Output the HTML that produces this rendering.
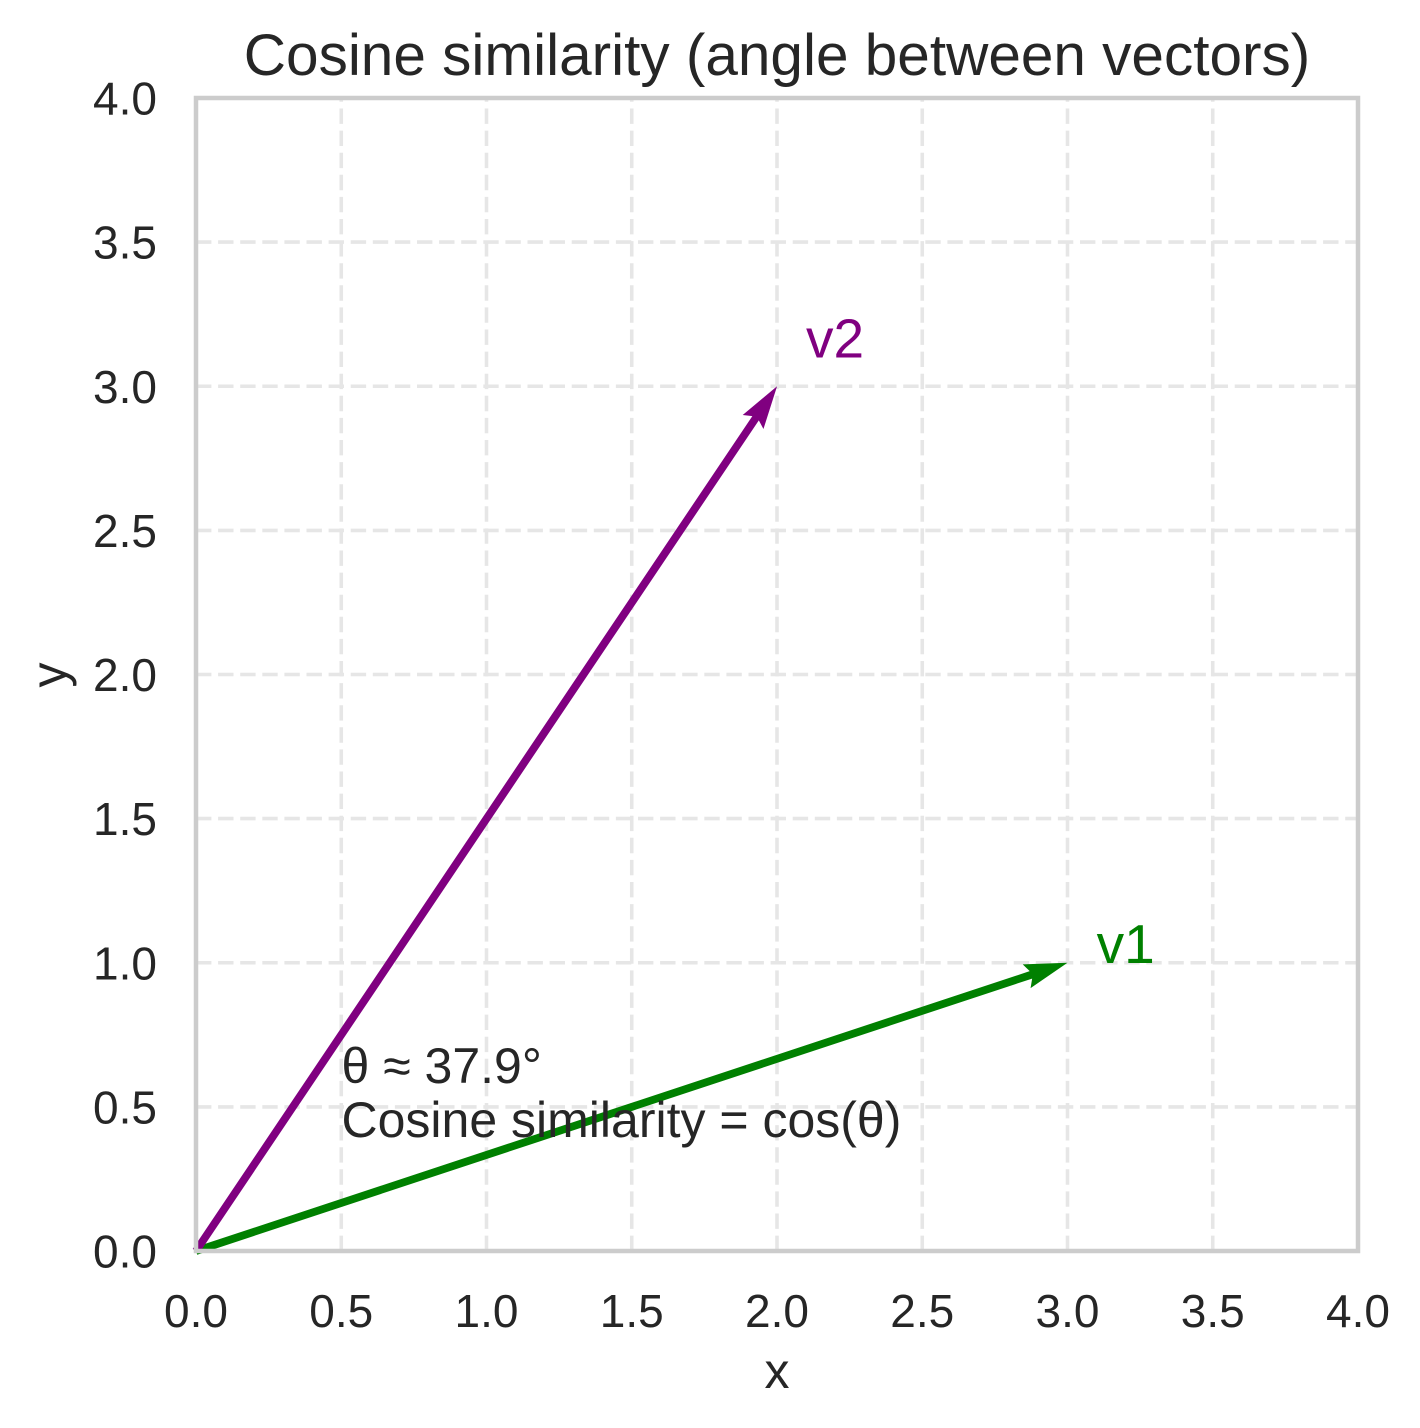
<!DOCTYPE html>
<html>
<head>
<meta charset="utf-8">
<style>
  html, body { margin: 0; padding: 0; background: #ffffff; }
  svg { display: block; }
  text { font-family: "Liberation Sans", Arial, sans-serif; fill: #262626; }
</style>
</head>
<body>
<svg width="1420" height="1428" viewBox="0 0 1420 1428" xmlns="http://www.w3.org/2000/svg">
  <rect x="0" y="0" width="1420" height="1428" fill="#ffffff"/>

  <!-- grid -->
  <g stroke="#e6e6e6" stroke-width="3.6" stroke-dasharray="15.4 6.7" fill="none">
    <line x1="341.25" y1="1251" x2="341.25" y2="98"/>
    <line x1="486.5" y1="1251" x2="486.5" y2="98"/>
    <line x1="631.75" y1="1251" x2="631.75" y2="98"/>
    <line x1="777" y1="1251" x2="777" y2="98"/>
    <line x1="922.25" y1="1251" x2="922.25" y2="98"/>
    <line x1="1067.5" y1="1251" x2="1067.5" y2="98"/>
    <line x1="1212.75" y1="1251" x2="1212.75" y2="98"/>

    <line x1="196" y1="1106.9" x2="1358" y2="1106.9"/>
    <line x1="196" y1="962.75" x2="1358" y2="962.75"/>
    <line x1="196" y1="818.6" x2="1358" y2="818.6"/>
    <line x1="196" y1="674.5" x2="1358" y2="674.5"/>
    <line x1="196" y1="530.4" x2="1358" y2="530.4"/>
    <line x1="196" y1="386.25" x2="1358" y2="386.25"/>
    <line x1="196" y1="242.1" x2="1358" y2="242.1"/>
  </g>

  <!-- arrows -->
  <g transform="translate(196,1251) rotate(-18.30)">
    <polygon fill="#008000" points="0,-3.9 879.4,-3.9 874.9,-12.5 917.9,0 874.9,12.5 879.4,3.9 0,3.9"/>
  </g>
  <g transform="translate(196,1251) rotate(-56.10)">
    <polygon fill="#800080" points="0,-3.9 1003.3,-3.9 998.8,-12.5 1041.8,0 998.8,12.5 1003.3,3.9 0,3.9"/>
  </g>

  <!-- spines -->
  <rect x="196" y="98" width="1162" height="1153" fill="none" stroke="#cccccc" stroke-width="4.5"/>

  <!-- vector labels -->
  <text x="806" y="357.5" font-size="55" style="fill:#800080">v2</text>
  <text x="1096.6" y="963" font-size="55" style="fill:#008000">v1</text>

  <!-- annotation -->
  <text x="341.5" y="1083" font-size="50">θ ≈ 37.9°</text>
  <text x="341.5" y="1137" font-size="50">Cosine similarity = cos(θ)</text>

  <!-- title -->
  <text x="777" y="75" font-size="58.5" text-anchor="middle">Cosine similarity (angle between vectors)</text>

  <!-- y tick labels -->
  <g font-size="46" text-anchor="end">
    <text x="157" y="1267.5">0.0</text>
    <text x="157" y="1123.4">0.5</text>
    <text x="157" y="979.3">1.0</text>
    <text x="157" y="835.1">1.5</text>
    <text x="157" y="691">2.0</text>
    <text x="157" y="546.9">2.5</text>
    <text x="157" y="402.8">3.0</text>
    <text x="157" y="258.6">3.5</text>
    <text x="157" y="114.5">4.0</text>
  </g>

  <!-- x tick labels -->
  <g font-size="46" text-anchor="middle">
    <text x="196" y="1327">0.0</text>
    <text x="341.25" y="1327">0.5</text>
    <text x="486.5" y="1327">1.0</text>
    <text x="631.75" y="1327">1.5</text>
    <text x="777" y="1327">2.0</text>
    <text x="922.25" y="1327">2.5</text>
    <text x="1067.5" y="1327">3.0</text>
    <text x="1212.75" y="1327">3.5</text>
    <text x="1358" y="1327">4.0</text>
  </g>

  <!-- axis labels -->
  <text x="777" y="1388" font-size="50" text-anchor="middle">x</text>
  <text transform="translate(66,675) rotate(-90)" font-size="50" text-anchor="middle">y</text>
</svg>
</body>
</html>
